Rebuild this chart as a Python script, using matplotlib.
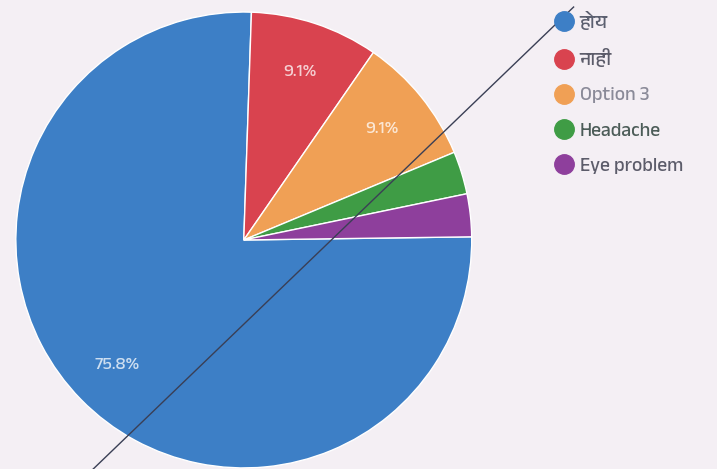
import matplotlib.pyplot as plt
from matplotlib.lines import Line2D
from matplotlib import font_manager

# -----------------------------
# Data (33 responses)
# -----------------------------
labels = ["होय", "नाही", "Option 3", "Headache", "Eye problem"]
counts = [25, 3, 3, 1, 1]
colors = ["#3d7fc6", "#d9434f", "#f0a055", "#3f9c45", "#8e3f9c"]
label_colors = ["#5c6070", "#5c5c6a", "#8a8a98", "#4c5c58", "#5c5c6a"]

BG = "#f4eff4"

# -----------------------------
# Fonts: need something with Devanagari
# -----------------------------
names = {f.name for f in font_manager.fontManager.ttflist}
deva = sorted(n for n in names if "Devanagari" in n)
plt.rcParams["font.family"] = deva + ["DejaVu Sans"]

fig = plt.figure(figsize=(7.17, 4.69), dpi=100, facecolor=BG)
ax = fig.add_axes([0.0220, 0.0023, 0.636, 0.972])
ax.set_facecolor(BG)


def pct_label(p):
    return f"{p:.1f}%" if p > 5 else ""


# blue ends just right of 12 o'clock, others follow clockwise
wedges, texts, autotexts = ax.pie(
    counts,
    colors=colors,
    startangle=0.8,
    counterclock=False,
    autopct=pct_label,
    pctdistance=0.78,
    wedgeprops=dict(edgecolor="white", linewidth=1.0),
    textprops=dict(color="white", fontsize=13, alpha=0.75),
)
ax.set_xlim(-1, 1)
ax.set_ylim(-1, 1)
ax.set_aspect("equal")

# legend
handles = [
    Line2D([0], [0], marker="o", linestyle="", markersize=14,
           markerfacecolor=c, markeredgecolor=c)
    for c in colors
]
leg = fig.legend(
    handles, labels,
    loc="upper left", bbox_to_anchor=(0.749, 1.012),
    frameon=False, fontsize=14,
    handletextpad=0.3, labelspacing=0.95, handlelength=1.0,
)
for t, c in zip(leg.get_texts(), label_colors):
    t.set_color(c)

# pen stroke crossing the photo
fig.add_artist(Line2D([0.80, 0.13], [0.985, 0.0], transform=fig.transFigure,
                      color="#3a3f55", linewidth=1.0))

fig.savefig("out.png", dpi=100, facecolor=BG)
